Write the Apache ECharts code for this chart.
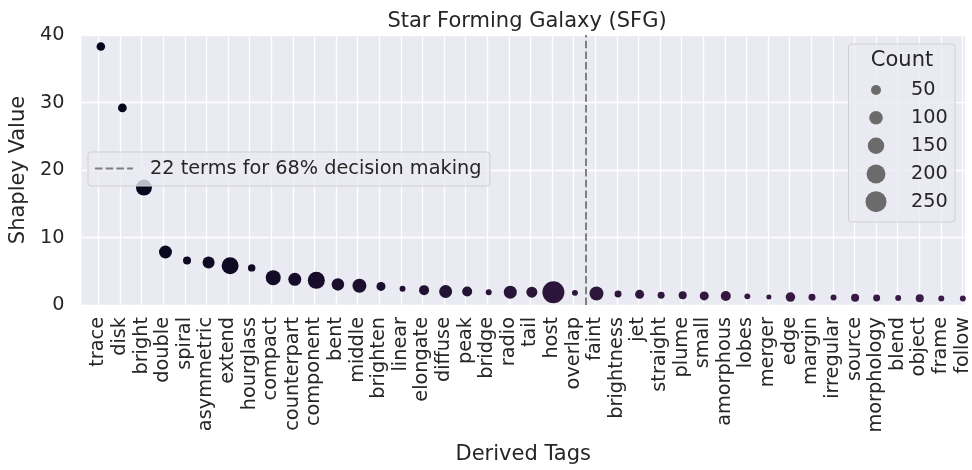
<!DOCTYPE html>
<html lang="en">
<head>
    <meta charset="UTF-8">
    <title>Star Forming Galaxy (SFG)</title>
    <style>
        html, body, #chart {
            width: 100%;
            height: 100%;
            margin: 0;
            padding: 0;
            background: #ffffff;
        }
    </style>
    <script src="https://cdn.jsdelivr.net/npm/echarts@6/dist/echarts.min.js"></script>
</head>
<body>
    <div id="chart"></div>
    <script>
        // derived tags, ordered by shapley value
        var tags = ['trace', 'disk', 'bright', 'double', 'spiral', 'asymmetric', 'extend', 'hourglass',
            'compact', 'counterpart', 'component', 'bent', 'middle', 'brighten', 'linear', 'elongate',
            'diffuse', 'peak', 'bridge', 'radio', 'tail', 'host', 'overlap', 'faint', 'brightness', 'jet',
            'straight', 'plume', 'small', 'amorphous', 'lobes', 'merger', 'edge', 'margin', 'irregular',
            'source', 'morphology', 'blend', 'object', 'frame', 'follow'];

        var shapley = [38.3, 29.2, 17.4, 7.85, 6.6, 6.3, 5.8, 5.5,
            4.05, 3.8, 3.65, 3.05, 2.85, 2.75, 2.4, 2.2,
            2.0, 2.0, 1.9, 1.9, 1.9, 1.9, 1.8, 1.7, 1.62, 1.58,
            1.45, 1.43, 1.35, 1.33, 1.28, 1.18, 1.17, 1.15, 1.12,
            1.08, 1.05, 1.03, 1.0, 0.97, 0.95];

        var counts = [34, 36, 141, 90, 29, 76, 161, 24,
            123, 90, 161, 83, 106, 39, 12, 50,
            90, 50, 12, 90, 62, 275, 12, 106, 20, 39,
            20, 29, 39, 50, 12, 6, 44, 20, 12,
            29, 20, 12, 29, 12, 12];

        var yTicks = [0, 10, 20, 30, 40];
        var sizeLegend = [50, 100, 150, 200, 250];
        var cutoff = 22.5;
        var cutoffLabel = '22 terms for 68% decision making';

        var FONT = 'DejaVu Sans';
        var INK = '#262626';
        var SMALL = 19.3;
        var BIG = 21;

        // marker diameter, area grows linearly with count
        function dotSize(c) {
            return Math.sqrt(14.75 + 1.705 * c);
        }

        var points = tags.map(function (t, i) {
            return [i, shapley[i], counts[i]];
        });

        // legend boxes drawn by hand
        var legendY = [90, 117.7, 145.7, 174, 201.7];
        var graphics = [
            {
                type: 'rect', z: 100,
                shape: { x: 88, y: 152, width: 402, height: 34, r: 3 },
                style: { fill: 'rgba(234,234,242,0.8)', stroke: '#cfcfd4', lineWidth: 1 }
            },
            {
                type: 'line', z: 101,
                shape: { x1: 95, y1: 168.5, x2: 133, y2: 168.5 },
                style: { stroke: '#7f7f7f', lineWidth: 2, lineDash: [7.5, 3.2] }
            },
            {
                type: 'text', z: 101, x: 150, y: 168.5,
                style: { text: cutoffLabel, font: SMALL + 'px "' + FONT + '"', fill: INK, verticalAlign: 'middle' }
            },
            {
                type: 'rect', z: 100,
                shape: { x: 848.5, y: 44, width: 106.5, height: 178, r: 3 },
                style: { fill: 'rgba(234,234,242,0.8)', stroke: '#cfcfd4', lineWidth: 1 }
            },
            {
                type: 'text', z: 101, x: 902, y: 61,
                style: { text: 'Count', font: BIG + 'px "' + FONT + '"', fill: INK, align: 'center', verticalAlign: 'middle' }
            }
        ];
        sizeLegend.forEach(function (c, i) {
            graphics.push({
                type: 'circle', z: 101,
                shape: { cx: 876, cy: legendY[i], r: dotSize(c) / 2 },
                style: { fill: '#6b6b6b' }
            });
            graphics.push({
                type: 'text', z: 101, x: 911, y: legendY[i],
                style: { text: String(c), font: SMALL + 'px "' + FONT + '"', fill: INK, verticalAlign: 'middle' }
            });
        });

        var chart = echarts.init(document.getElementById('chart'));

        chart.setOption({
            animation: false,
            backgroundColor: '#ffffff',
            textStyle: { fontFamily: FONT, color: INK },
            title: {
                text: 'Star Forming Galaxy (SFG)',
                left: 522,
                top: 6,
                textAlign: 'center',
                textStyle: { fontFamily: FONT, fontSize: BIG, fontWeight: 'normal', color: INK }
            },
            grid: [
                // plot background, y labels, series
                { left: 79, right: 7, top: 35, bottom: 165, show: true, backgroundColor: '#eaeaf2', borderWidth: 0 },
                // category labels + vertical grid lines
                { left: 98.45, right: 9.15, top: 35, bottom: 165 }
            ],
            xAxis: [
                {
                    gridIndex: 0, type: 'value', min: -0.9, max: 40.1,
                    name: 'Derived Tags', nameLocation: 'middle', nameGap: 139,
                    nameTextStyle: { fontFamily: FONT, fontSize: BIG, color: INK },
                    axisLine: { show: false }, axisTick: { show: false },
                    axisLabel: { show: false }, splitLine: { show: false }
                },
                {
                    gridIndex: 1, type: 'category', data: tags, boundaryGap: false,
                    axisLine: { show: false }, axisTick: { show: false },
                    axisLabel: { interval: 0, rotate: 90, margin: 12, fontFamily: FONT, fontSize: SMALL, color: INK },
                    splitLine: { show: true, interval: 0, lineStyle: { color: '#ffffff', width: 1.3 } }
                }
            ],
            yAxis: [
                {
                    gridIndex: 0, type: 'value', min: yTicks[0], max: yTicks[yTicks.length - 1],
                    interval: yTicks[1] - yTicks[0],
                    name: 'Shapley Value', nameLocation: 'middle', nameGap: 48,
                    nameTextStyle: { fontFamily: FONT, fontSize: BIG, color: INK },
                    axisLine: { show: false }, axisTick: { show: false },
                    axisLabel: { margin: 17, fontFamily: FONT, fontSize: SMALL, color: INK },
                    splitLine: { show: true, lineStyle: { color: '#ffffff', width: 1.3 } }
                },
                {
                    gridIndex: 1, type: 'value', min: 0, max: 40, show: false,
                    splitLine: { show: false }
                }
            ],
            visualMap: {
                show: false, type: 'continuous', dimension: 0, min: 0, max: 40, seriesIndex: 0,
                inRange: { color: ['#04051b', '#2a1539', '#3e1a47'] }
            },
            series: [{
                type: 'scatter',
                xAxisIndex: 0,
                yAxisIndex: 0,
                data: points,
                symbolSize: function (d) { return dotSize(d[2]); },
                itemStyle: { opacity: 1 },
                markLine: {
                    silent: true,
                    symbol: 'none',
                    label: { show: false },
                    lineStyle: { color: '#808080', width: 2, type: [7.5, 3.2] },
                    data: [{ xAxis: cutoff }]
                }
            }],
            graphic: graphics
        });
    </script>
</body>
</html>
